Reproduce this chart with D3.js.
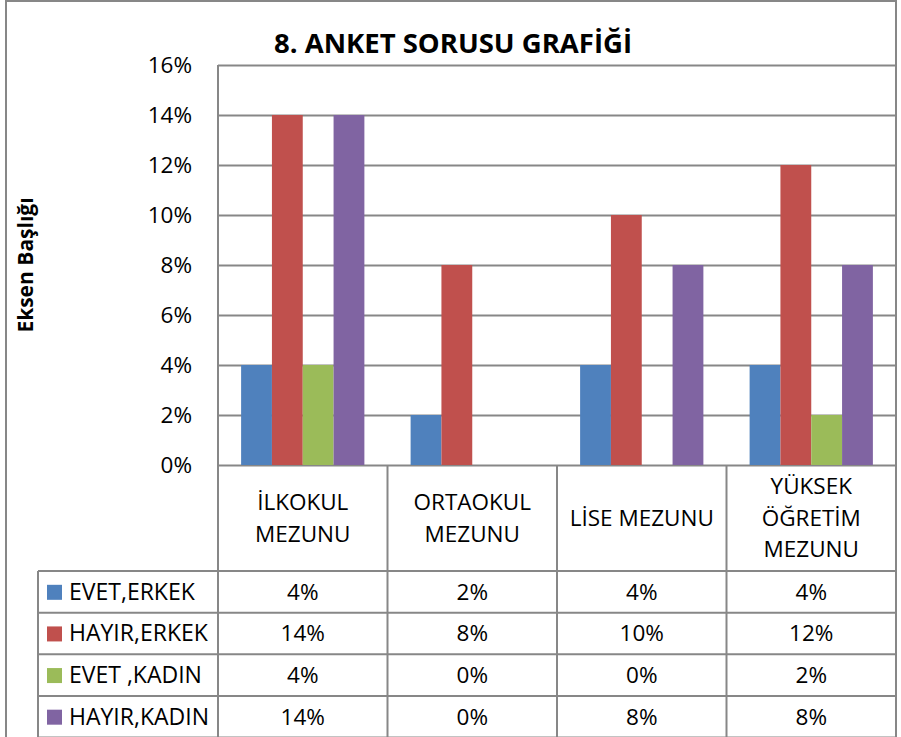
<!DOCTYPE html>
<html>
<head>
<meta charset="utf-8">
<script src="https://cdn.jsdelivr.net/npm/d3@7"></script>
<style>
  body { margin: 0; background: #fff; }
  svg { display: block; font-family: "Open Sans", sans-serif; }
</style>
</head>
<body>
<svg width="901" height="737"></svg>
<script>
// chart data (values in percent)
const categories = ["İLKOKUL\nMEZUNU", "ORTAOKUL\nMEZUNU", "LİSE MEZUNU", "YÜKSEK\nÖĞRETİM\nMEZUNU"];
const seriesNames = ["EVET,ERKEK", "HAYIR,ERKEK", "EVET ,KADIN", "HAYIR,KADIN"];
const evetErkek = [4, 2, 4, 4];
const hayirErkek = [14, 8, 10, 12];
const evetKadin = [4, 0, 0, 2];
const hayirKadin = [14, 0, 8, 8];
const yTicks = [0, 2, 4, 6, 8, 10, 12, 14, 16];
const colors = ["#4F81BD", "#C0504D", "#9BBB59", "#8064A2"];

const seriesValues = [evetErkek, hayirErkek, evetKadin, hayirKadin];
const gridColor = "#878787";

const svg = d3.select("svg");

// plot area
const plotLeft = 218, plotRight = 896, plotTop = 65, plotBottom = 465;
const tableLeft = 38, headerBottom = 571, tableBottom = 737.5;

//outer border
svg.append("rect")
    .attr("x", 6)
    .attr("y", 1)
    .attr("width", 890)
    .attr("height", 760)
    .attr("fill", "none")
    .attr("stroke", gridColor)
    .attr("stroke-width", 2);

const x = d3.scaleBand()
    .domain(categories)
    .range([plotLeft, plotRight]);

// Excel gap width 150%
const xInner = d3.scaleBand()
    .domain(seriesNames)
    .range([0, x.bandwidth()])
    .paddingInner(0)
    .paddingOuter(0.75);

const y = d3.scaleLinear()
    .domain([0, 16])
    .range([plotBottom, plotTop]);

//gridlines
svg.append("g")
    .attr("transform", "translate(" + plotLeft + ",0)")
    .call(d3.axisLeft(y).tickValues(yTicks).tickSize(-(plotRight - plotLeft)).tickFormat(""))
    .call(g => g.select(".domain").remove())
    .call(g => g.selectAll(".tick line")
        .attr("stroke", gridColor)
        .attr("stroke-width", 2));

//plot left edge
svg.append("line")
    .attr("x1", plotLeft).attr("x2", plotLeft)
    .attr("y1", plotTop).attr("y2", tableBottom)
    .attr("stroke", gridColor)
    .attr("stroke-width", 2);

//tick labels
svg.append("g")
    .attr("transform", "translate(192,0)")
    .call(d3.axisLeft(y).tickValues(yTicks).tickSize(0).tickPadding(0).tickFormat(d => d + "%"))
    .call(g => g.select(".domain").remove())
    .call(g => g.selectAll(".tick text")
        .attr("font-family", "Open Sans")
        .attr("font-size", 22.5)
        .attr("fill", "#000"));

//bars
seriesValues.forEach((vals, si) => {
    svg.append("g")
        .selectAll("rect")
        .data(vals)
        .enter()
        .append("rect")
        .attr("x", (d, i) => x(categories[i]) + xInner(seriesNames[si]))
        .attr("y", d => y(d))
        .attr("width", xInner.bandwidth())
        .attr("height", d => y(0) - y(d))
        .attr("fill", colors[si]);
});

//title
svg.append("text")
    .attr("x", 453)
    .attr("y", 53)
    .attr("text-anchor", "middle")
    .attr("font-size", 27.5)
    .attr("font-weight", "bold")
    .text("8. ANKET SORUSU GRAFİĞİ");

//axis title
svg.append("text")
    .attr("transform", "translate(33,265) rotate(-90)")
    .attr("text-anchor", "middle")
    .attr("font-size", 21)
    .attr("font-weight", "bold")
    .text("Eksen Başlığı");

//--------------------Data table--------------------
const rowY = d3.scaleBand()
    .domain(seriesNames)
    .range([headerBottom, tableBottom]);

function hline(x1, x2, yy) {
    svg.append("line")
        .attr("x1", x1).attr("x2", x2)
        .attr("y1", yy).attr("y2", yy)
        .attr("stroke", gridColor)
        .attr("stroke-width", 2);
}
function vline(xx, y1, y2) {
    svg.append("line")
        .attr("x1", xx).attr("x2", xx)
        .attr("y1", y1).attr("y2", y2)
        .attr("stroke", gridColor)
        .attr("stroke-width", 2);
}

seriesNames.forEach(s => hline(tableLeft, plotRight, rowY(s)));
hline(tableLeft, plotRight, tableBottom);
vline(tableLeft, headerBottom, tableBottom);
categories.forEach(c => vline(x(c) + x.bandwidth(), plotBottom, tableBottom));

//header labels
const lineH = 31.5;
categories.forEach(c => {
    const lines = c.split("\n");
    const cy = (plotBottom + headerBottom) / 2;
    lines.forEach((ln, k) => {
        svg.append("text")
            .attr("x", x(c) + x.bandwidth() / 2)
            .attr("y", cy + (k - (lines.length - 1) / 2) * lineH)
            .attr("dy", "0.35em")
            .attr("text-anchor", "middle")
            .attr("font-size", 22.5)
            .text(ln);
    });
});

//legend column and values
seriesNames.forEach((s, si) => {
    const cy = rowY(s) + rowY.bandwidth() / 2;
    svg.append("rect")
        .attr("x", 47)
        .attr("y", cy - 7)
        .attr("width", 15)
        .attr("height", 15)
        .attr("fill", colors[si]);
    svg.append("text")
        .attr("x", 69)
        .attr("y", cy)
        .attr("dy", "0.35em")
        .attr("font-size", 23)
        .text(s);
    seriesValues[si].forEach((v, i) => {
        svg.append("text")
            .attr("x", x(categories[i]) + x.bandwidth() / 2)
            .attr("y", cy)
            .attr("dy", "0.35em")
            .attr("text-anchor", "middle")
            .attr("font-size", 22.5)
            .text(v + "%");
    });
});
</script>
</body>
</html>
